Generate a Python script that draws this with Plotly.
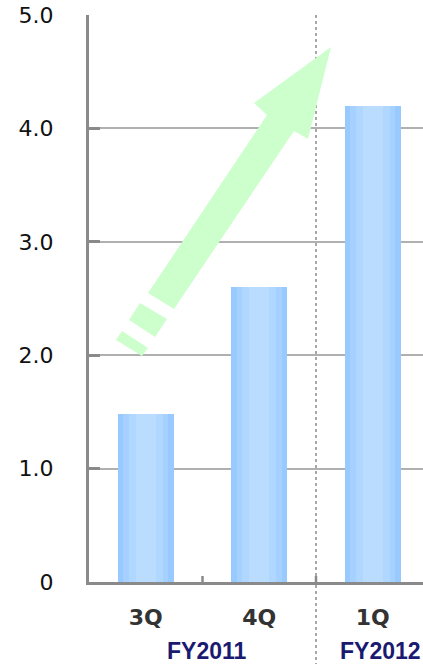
import plotly.graph_objects as go

categories = ["3Q", "4Q", "1Q"]
values = [1.48, 2.6, 4.2]
y_tickvals = [0, 1, 2, 3, 4, 5]
y_ticktext = ["0", "1.0", "2.0", "3.0", "4.0", "5.0"]
fiscal_labels = ["FY2011", "FY2012"]

W, H = 423, 664
ML, MR, MT, MB = 89, 0, 15, 82
PPU_X = 113.5
X_MAX = -0.5 + (W - ML - MR) / PPU_X
PPU_Y = (H - MT - MB) / 5.0


def px2x(px):
    return -0.5 + (px - ML) / PPU_X


def py2y(py):
    return (H - MB - py) / PPU_Y


def poly(points):
    pts = [f"{px2x(a):.4f},{py2y(b):.4f}" for a, b in points]
    return "M " + " L ".join(pts) + " Z"


fig = go.Figure()

# gradient-like bars (overlaid layers)
layers = [(0.49, "#99caff"), (0.40, "#a5d0ff"), (0.30, "#b0d7ff"), (0.18, "#badcff")]
for w, c in layers:
    fig.add_trace(go.Bar(
        x=list(range(len(categories))), y=values, width=w,
        marker=dict(color=c, line=dict(width=0)),
        hoverinfo="skip", showlegend=False,
    ))

arrow_main = [(148, 293), (267, 115), (254, 103), (331, 47), (308, 139), (294, 131), (174, 309)]
dash1 = [(140, 303), (129, 320), (155, 337), (167, 319)]
dash2 = [(122, 331), (116, 340), (142, 356), (148, 348)]

shapes = []
# dotted separator
sep_paper = (1.5 + 0.5) / (X_MAX + 0.5)
shapes.append(dict(type="line", xref="paper", yref="paper",
                   x0=sep_paper, x1=sep_paper, y0=1, y1=-MB / (H - MT - MB),
                   line=dict(color="#8c8c8c", width=1.5, dash="dot"), layer="above"))
for p in (arrow_main, dash1, dash2):
    shapes.append(dict(type="path", xref="x", yref="y", path=poly(p),
                       fillcolor="#ccffcc", line=dict(width=0), layer="above"))

annotations = []
for label, px in zip(fiscal_labels, [206, 380]):
    annotations.append(dict(
        text=f"<b>{label}</b>", x=px2x(px), xref="x",
        y=(H - MB - 651) / (H - MT - MB), yref="paper",
        xanchor="center", yanchor="middle", showarrow=False,
        font=dict(family="Liberation Sans", size=23, color="#1a1a70"),
    ))

fig.update_layout(
    width=W, height=H,
    margin=dict(l=ML, r=MR, t=MT, b=MB, pad=0),
    paper_bgcolor="white", plot_bgcolor="white",
    barmode="overlay", bargap=0,
    shapes=shapes, annotations=annotations,
    showlegend=False,
    xaxis=dict(
        range=[-0.5, X_MAX], tickmode="array",
        tickvals=[0, 1, 2], ticktext=[f"<b>{c}</b>" for c in categories],
        tickfont=dict(family="DejaVu Sans", size=22, color="#333333"),
        showgrid=False, zeroline=False,
        showline=True, linecolor="#8a8a8a", linewidth=3,
        ticks="", ticklabelstandoff=14,
        fixedrange=True,
    ),
    yaxis=dict(
        range=[0, 5], tickmode="array", tickvals=y_tickvals, ticktext=y_ticktext,
        tickfont=dict(family="DejaVu Sans", size=22, color="#111111"),
        showgrid=True, gridcolor="#b0b0b0", gridwidth=1.5,
        zeroline=False, showline=True, linecolor="#8a8a8a", linewidth=3,
        ticks="inside", ticklen=11, tickwidth=3, tickcolor="#8a8a8a",
        ticklabelstandoff=28,
        fixedrange=True,
    ),
)

# small boundary ticks on x axis
for b in [0.5, 1.5]:
    fig.add_shape(type="line", xref="x", yref="paper", x0=b, x1=b,
                  y0=0, y1=6 / (H - MT - MB), line=dict(color="#8a8a8a", width=2.5))

fig.write_html("out.html")
